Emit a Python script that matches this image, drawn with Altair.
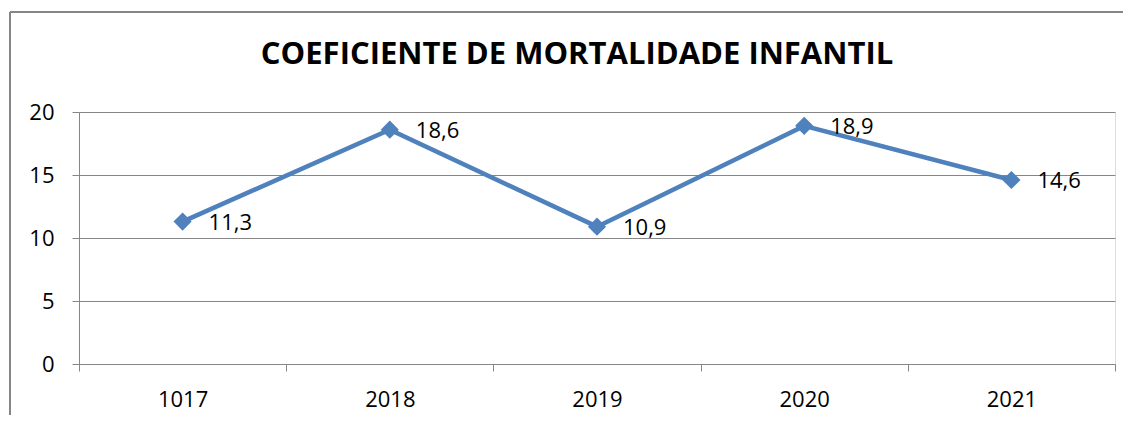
import altair as alt
import pandas as pd

years = ["1017", "2018", "2019", "2020", "2021"]
values = [11.3, 18.6, 10.9, 18.9, 14.6]
labels = ["11,3", "18,6", "10,9", "18,9", "14,6"]
title_text = "COEFICIENTE DE MORTALIDADE INFANTIL"

df = pd.DataFrame({"ano": years, "valor": values, "rotulo": labels})

FONT = "Open Sans"
GRAY = "#868686"
BLUE = "#4F81BD"

x_enc = alt.X("ano:N", sort=years,
              scale=alt.Scale(paddingInner=0, paddingOuter=0),
              axis=alt.Axis(title=None, labelAngle=0, tickBand="extent", grid=False,
                            domainColor=GRAY, tickColor=GRAY, tickSize=7,
                            labelFont=FONT, labelFontSize=22, labelColor="black",
                            labelPadding=18))
y_enc = alt.Y("valor:Q", scale=alt.Scale(domain=[0, 20], nice=False),
              axis=alt.Axis(title=None, values=[0, 5, 10, 15, 20], grid=True,
                            gridColor=GRAY, gridWidth=1, domainColor=GRAY,
                            tickColor=GRAY, tickSize=7,
                            labelFont=FONT, labelFontSize=22, labelColor="black",
                            labelPadding=18))

base = alt.Chart(df).encode(x=x_enc, y=y_enc)

line = base.mark_line(color=BLUE, strokeWidth=4.5)
pts = base.mark_point(shape="diamond", filled=True, size=330, color=BLUE, opacity=1)
txt = base.mark_text(align="left", baseline="middle", dx=26, dy=1, font=FONT,
                     fontSize=22, color="black").encode(text="rotulo:N")

border_left = alt.Chart(df).mark_rule(color=GRAY, strokeWidth=1.5).encode(
    x=alt.value(-69), y=alt.value(-100), y2=alt.value(320))
border_top = alt.Chart(df).mark_rule(color=GRAY, strokeWidth=1.5).encode(
    x=alt.value(-69), x2=alt.value(1060), y=alt.value(-100))

chart = alt.layer(border_left, border_top, line, pts, txt).properties(
    width=1036, height=252,
    title=alt.TitleParams(title_text, font=FONT, fontSize=31, fontWeight="bold",
                          color="black", anchor="middle", dx=-20, offset=-84,
                          frame="group", baseline="alphabetic"),
    autosize=alt.AutoSizeParams(type="none"),
    padding={"left": 71, "top": 104, "right": 8, "bottom": 51},
).configure_view(stroke=None).configure(background="white")

chart.save("out.html", embed_options={"renderer": "svg", "actions": False})
